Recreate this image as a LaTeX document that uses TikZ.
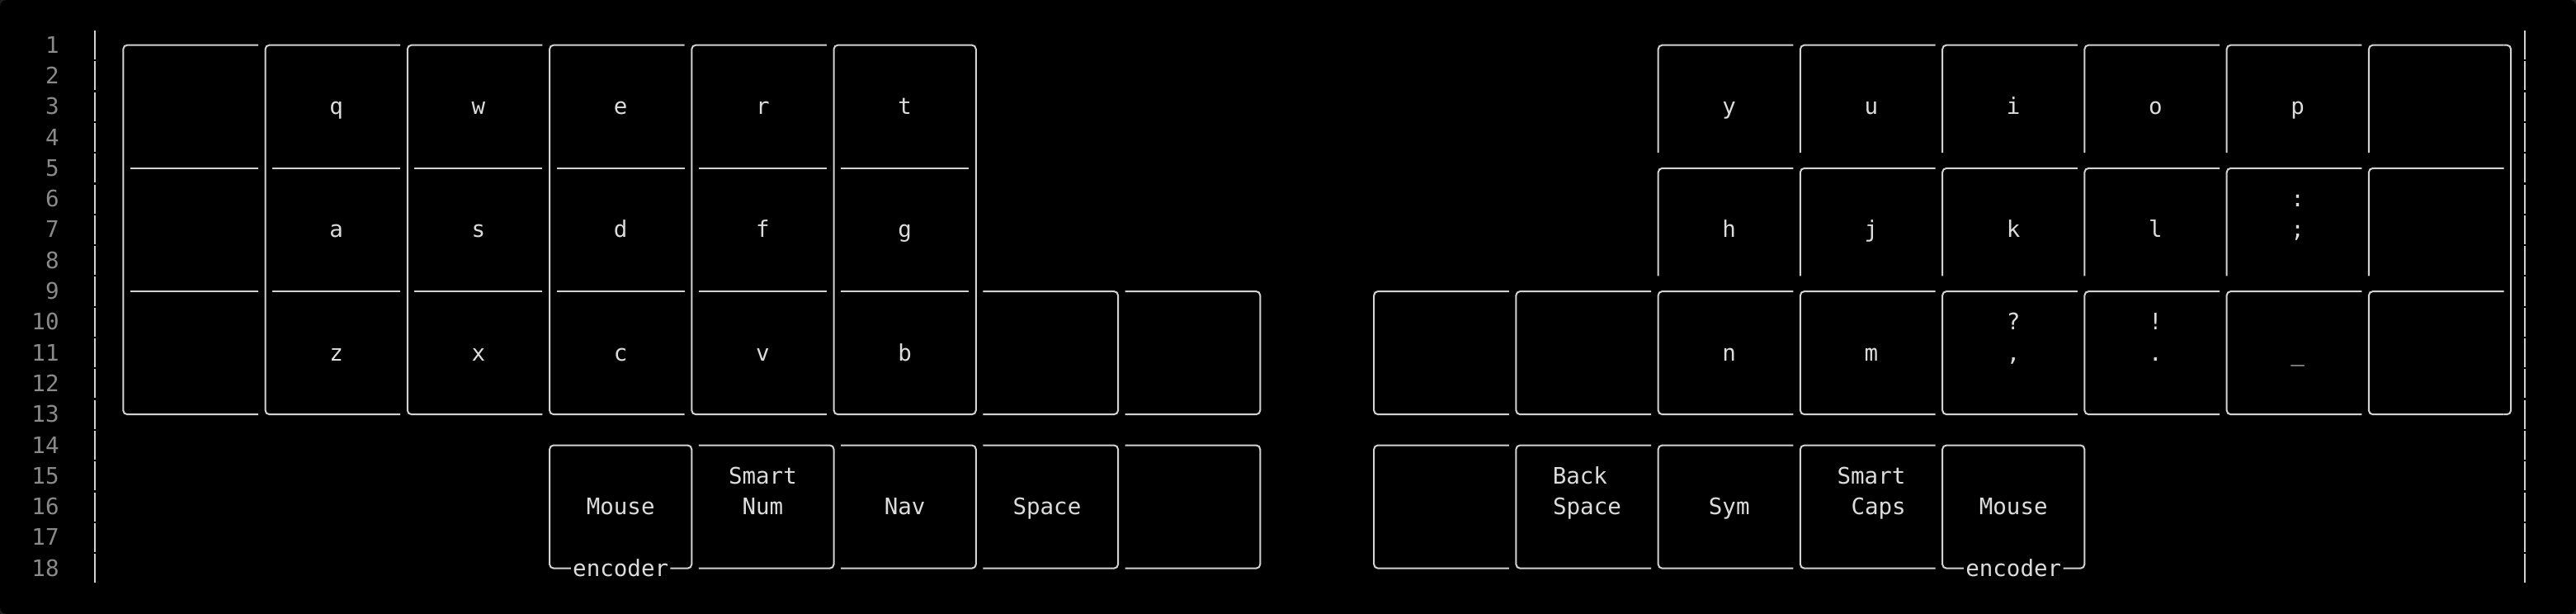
\documentclass[tikz,border=0pt]{standalone}
\usepackage{fontspec}
\setmonofont{DejaVu Sans Mono}
\definecolor{edge}{HTML}{D2D2D2}
\definecolor{txt}{HTML}{DCDCDC}
\definecolor{numc}{HTML}{8A8A8A}
\definecolor{outer}{HTML}{1E1E1E}
\begin{document}
\begin{tikzpicture}[x=17.225pt, y=-37.3pt,
  key/.style={draw=edge, line width=2pt, rounded corners=5pt},
  sep/.style={draw=edge, line width=2pt},
  gut/.style={draw=edge, line width=2pt},
  lbl/.style={font=\ttfamily\fontsize{27.5}{30}\selectfont, text=txt, inner sep=0pt, anchor=base},
  num/.style={lbl, text=numc, anchor=base east}]
\useasboundingbox (-8.668,-0.4638) rectangle (172.58,19.482);
\fill[outer] (-8.668,-0.4638) rectangle (172.58,19.482);
\fill[black, rounded corners=8pt] (-8.668,-0.4638) rectangle (172.58,19.482);

% line numbers and gutters
\foreach \r in {1,...,18} {
  \node[num] (ln\r) at (-4.5, \r+0.255) {\r};
  \draw[gut] (-2,\r-0.47) -- (-2,\r+0.47);
  \draw[gut] (169,\r-0.47) -- (169,\r+0.47);
}

% left alpha block
\foreach \c in {0,10,...,40} {
  \draw[key] (\c+9.5,1) -- (\c,1) -- (\c,13) -- (\c+9.5,13);
}
\draw[key] (50,1) rectangle (60,13);
\foreach \c in {0,10,...,50} {
  \draw[sep] (\c+0.5,5) -- (\c+9.5,5);
  \draw[sep] (\c+0.5,9) -- (\c+9.5,9);
}
\foreach \c in {60,70} {
  \draw[key] (\c+0.5,9) -- (\c+10,9) -- (\c+10,13) -- (\c+0.5,13);
}

% left thumbs
\draw[key] (31.5,18) -- (30,18) -- (30,14) -- (40,14) -- (40,18) -- (38.5,18);
\foreach \c in {40,50,60,70} {
  \draw[key] (\c+0.5,14) -- (\c+10,14) -- (\c+10,18) -- (\c+0.5,18);
}

% right alpha block
\foreach \c in {108,118,...,158} {
  \draw[key] (\c,4.5) -- (\c,1) -- (\c+9.5,1);
  \draw[key] (\c,8.5) -- (\c,5) -- (\c+9.5,5);
}
\foreach \c in {88,98,...,158} {
  \draw[key] (\c+9.5,9) -- (\c,9) -- (\c,13) -- (\c+9.5,13);
}
\draw[key] (167.5,1) -- (168,1) -- (168,13) -- (167.5,13);

% right thumbs
\foreach \c in {88,98,108,118} {
  \draw[key] (\c+9.5,14) -- (\c,14) -- (\c,18) -- (\c+9.5,18);
}
\draw[key] (129.5,18) -- (128,18) -- (128,14) -- (138,14) -- (138,18) -- (136.5,18);

% left labels
\node[lbl] (kq) at (15,3.255) {q};
\node[lbl] (kw) at (25,3.255) {w};
\node[lbl] (ke) at (35,3.255) {e};
\node[lbl] (kr) at (45,3.255) {r};
\node[lbl] (kt) at (55,3.255) {t};
\node[lbl] (ka) at (15,7.255) {a};
\node[lbl] (ks) at (25,7.255) {s};
\node[lbl] (kd) at (35,7.255) {d};
\node[lbl] (kf) at (45,7.255) {f};
\node[lbl] (kg) at (55,7.255) {g};
\node[lbl] (kz) at (15,11.255) {z};
\node[lbl] (kx) at (25,11.255) {x};
\node[lbl] (kc) at (35,11.255) {c};
\node[lbl] (kv) at (45,11.255) {v};
\node[lbl] (kb) at (55,11.255) {b};

% left thumb labels
\node[lbl] (lmouse) at (35,16.255) {Mouse};
\node[lbl] (lenc) at (35,18.255) {encoder};
\node[lbl] (snum1) at (45,15.255) {Smart};
\node[lbl] (snum2) at (45,16.255) {Num};
\node[lbl] (nav) at (55,16.255) {Nav};
\node[lbl] (space) at (65,16.255) {Space};

% right labels
\node[lbl] (ky) at (113,3.255) {y};
\node[lbl] (ku) at (123,3.255) {u};
\node[lbl] (ki) at (133,3.255) {i};
\node[lbl] (ko) at (143,3.255) {o};
\node[lbl] (kp) at (153,3.255) {p};
\node[lbl] (kh) at (113,7.255) {h};
\node[lbl] (kj) at (123,7.255) {j};
\node[lbl] (kk) at (133,7.255) {k};
\node[lbl] (kl) at (143,7.255) {l};
\node[lbl] (kcolon) at (153,6.255) {:};
\node[lbl] (ksemi) at (153,7.255) {;};
\node[lbl] (kn) at (113,11.255) {n};
\node[lbl] (km) at (123,11.255) {m};
\node[lbl] (kques) at (133,10.255) {?};
\node[lbl] (kcomma) at (133,11.255) {,};
\node[lbl] (kexcl) at (143,10.255) {!};
\node[lbl] (kdot) at (143,11.255) {.};
\node[lbl] (kunder) at (153,11.255) {\_};

% right thumb labels
\node[lbl] (bs1) at (102.5,15.255) {Back};
\node[lbl] (bs2) at (103,16.255) {Space};
\node[lbl] (sym) at (113,16.255) {Sym};
\node[lbl] (scaps1) at (123,15.255) {Smart};
\node[lbl] (scaps2) at (123.5,16.255) {Caps};
\node[lbl] (rmouse) at (133,16.255) {Mouse};
\node[lbl] (renc) at (133,18.255) {encoder};
\end{tikzpicture}
\end{document}
